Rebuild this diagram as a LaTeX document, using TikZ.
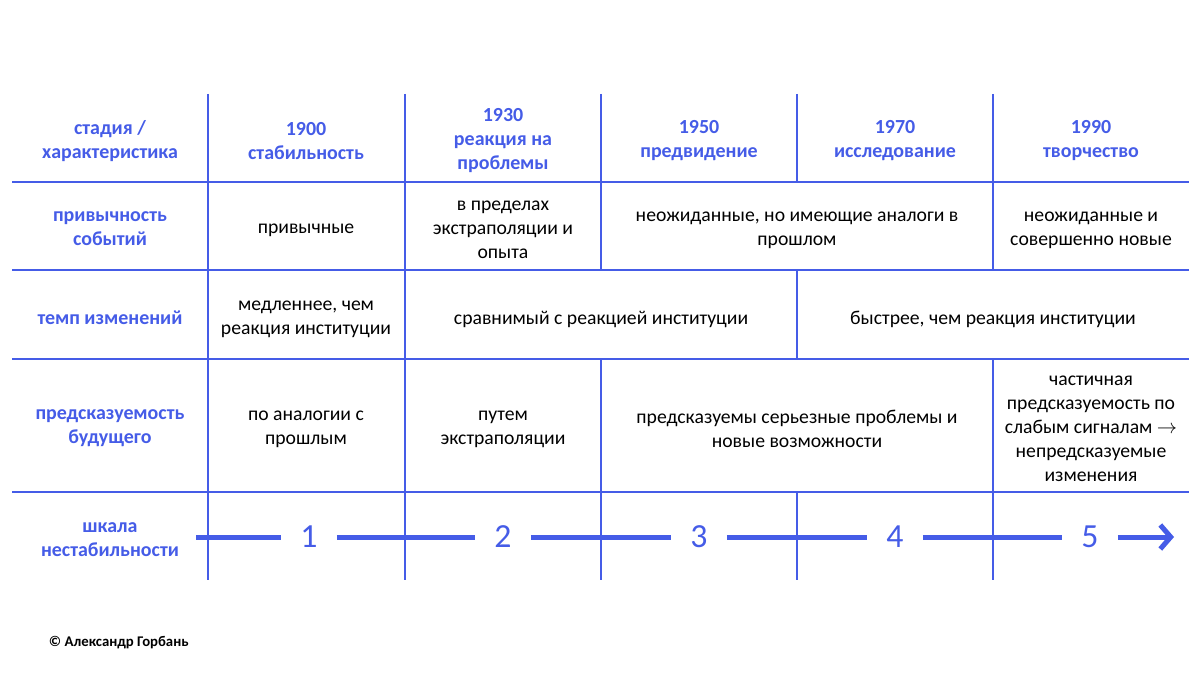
\documentclass[tikz,border=0pt]{standalone}
\usepackage{fontspec}
\setmainfont{Carlito}
\usetikzlibrary{arrows.meta, positioning}
\definecolor{gorbanBlue}{RGB}{69, 92, 231}

\begin{document}
\begin{tikzpicture}[x=0.025cm, y=-0.025cm, font=\fontsize{14}{17}\selectfont,
    grid/.style={gorbanBlue, line width=1pt},
    head/.style={gorbanBlue, font=\fontsize{14.2}{17}\selectfont\bfseries, align=center, yshift=-0.07cm},
    cell/.style={align=center, yshift=-0.1cm},
    num/.style={gorbanBlue, font=\fontsize{24}{24}\selectfont, minimum width=1.375cm, inner sep=0pt},
    scale line/.style={gorbanBlue, line width=0.125cm}]
                    \useasboundingbox (0,0) rectangle (1200,675);
                    % table lines
                    \draw[grid] (12,182) -- (1189,182);
                    \draw[grid] (12,270) -- (1189,270);
                    \draw[grid] (12,359) -- (1189,359);
                    \draw[grid] (12,492) -- (1189,492);
                    \draw[grid] (208,94) -- (208,580);
                    \draw[grid] (405,94) -- (405,580);
                    \draw[grid] (601,94) -- (601,270) (601,359) -- (601,580);
                    \draw[grid] (797,94) -- (797,182) (797,270) -- (797,359) (797,492) -- (797,580);
                    \draw[grid] (993,94) -- (993,270) (993,359) -- (993,580);

                    % header
                    \node[head] (stage) at (110,138) {стадия /\\характеристика};
                    \node[head] (y1900) at (306,138) {1900\\стабильность};
                    \node[head] (y1930) at (503,138) {1930\\реакция на\\проблемы};
                    \node[head] (y1950) at (699,138) {1950\\предвидение};
                    \node[head] (y1970) at (895,138) {1970\\исследование};
                    \node[head] (y1990) at (1091,138) {1990\\творчество};

                    % events
                    \node[head] (events) at (110,226) {привычность\\событий};
                    \node[cell] (ev1) at (306,226) {привычные};
                    \node[cell] (ev2) at (503,226) {в пределах\\экстраполяции и\\опыта};
                    \node[cell] (ev3) at (797,226) {неожиданные, но имеющие аналоги в\\прошлом};
                    \node[cell] (ev5) at (1091,226) {неожиданные и\\совершенно новые};

                    % pace
                    \node[head] (pace) at (110,315) {темп изменений};
                    \node[cell] (pc1) at (306,315) {медленнее, чем\\реакция институции};
                    \node[cell] (pc2) at (601,315) {сравнимый с реакцией институции};
                    \node[cell] (pc4) at (993,315) {быстрее, чем реакция институции};

                    % predictability
                    \node[head] (pred) at (110,425) {предсказуемость\\будущего};
                    \node[cell] (pr1) at (306,425) {по аналогии с\\прошлым};
                    \node[cell] (pr2) at (503,425) {путем\\экстраполяции};
                    \node[cell] (pr3) at (797,425) {предсказуемы серьезные проблемы и\\новые возможности};
                    \node[cell] (pr5) at (1091,425) {частичная\\предсказуемость по\\слабым сигналам $\rightarrow$\\непредсказуемые\\изменения};

                    % instability scale
                    \node[head] (scale) at (110,537) {шкала\\нестабильности};
                    \coordinate (s0) at (196,537);
                    \node[num] (n1) at (309,537) {1};
                    \node[num] (n2) at (503,537) {2};
                    \node[num] (n3) at (699,537) {3};
                    \node[num] (n4) at (895,537) {4};
                    \node[num] (n5) at (1090,537) {5};
                    \coordinate (s6) at (1174,537);
                    \draw[scale line] (s0) -- (n1);
                    \draw[scale line] (n1) -- (n2);
                    \draw[scale line] (n2) -- (n3);
                    \draw[scale line] (n3) -- (n4);
                    \draw[scale line] (n4) -- (n5);
                    \draw[scale line, -{Straight Barb[length=0.26cm, width=0.6cm]}] (n5) -- (s6);

                    \node[anchor=west, font=\fontsize{10.5}{12}\selectfont\bfseries] (copy) at (44,643) {© Александр Горбань};
                \end{tikzpicture}
\end{document}
